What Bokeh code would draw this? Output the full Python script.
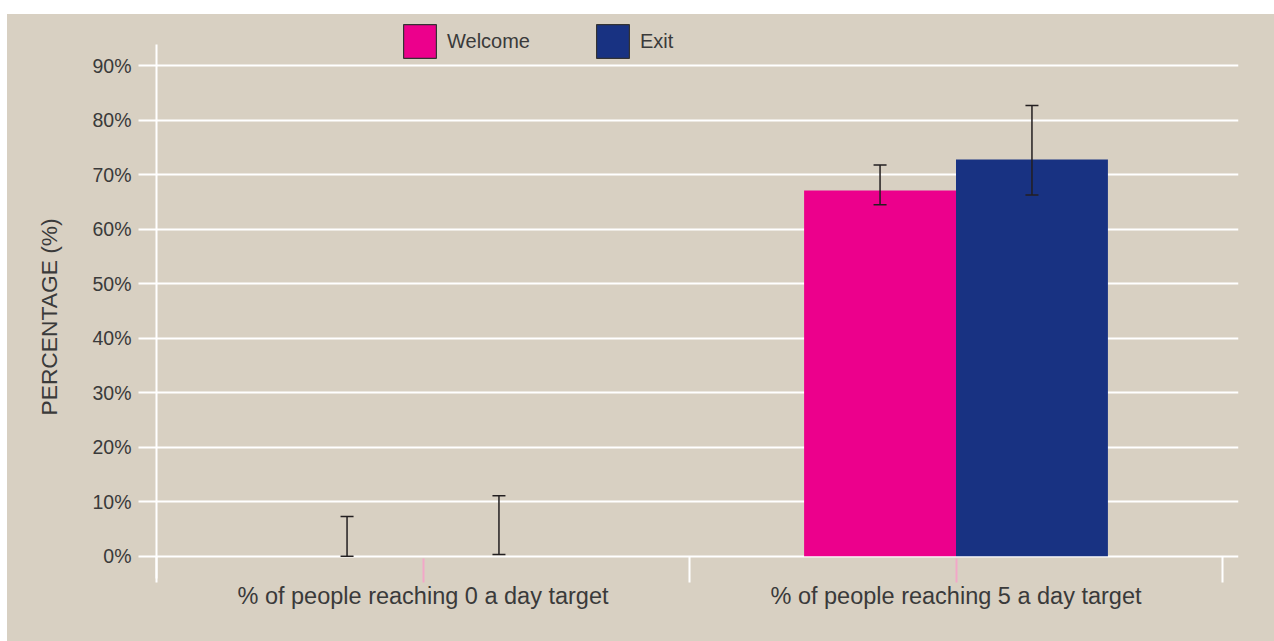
import numpy as np
from bokeh.plotting import figure
from bokeh.models import (ColumnDataSource, Range1d, FixedTicker, PrintfTickFormatter,
                          Whisker, TeeHead, Legend, LegendItem, Spacer, Title)
from bokeh.layouts import column, row
from bokeh.transform import dodge
from bokeh.embed import file_html
from bokeh.resources import INLINE

# ---- data ----
categories = ["% of people reaching 0 a day target", "% of people reaching 5 a day target"]
series = ["Welcome", "Exit"]
welcome = [0.0, 67.1]
welcome_lo = [0.0, 64.5]
welcome_hi = [7.3, 71.8]
exit_ = [0.0, 72.8]
exit_lo = [0.3, 66.3]
exit_hi = [11.1, 82.7]
y_ticks = [0, 10, 20, 30, 40, 50, 60, 70, 80, 90]
y_title = "PERCENTAGE (%)"

# ---- style ----
BG = "#D8D0C2"
PINK = "#EC008C"
NAVY = "#183282"
TXT = "#3a3a3a"
FONT = "Liberation Sans"

xpos = [i + 1 for i in range(len(categories))]
src = ColumnDataSource(dict(x=xpos, welcome=welcome, wlo=welcome_lo, whi=welcome_hi,
                            exit=exit_, elo=exit_lo, ehi=exit_hi))

y_lo, y_axis_top, y_frame_top = -4.09, 93.9, 99.41
p = figure(width=1267, height=627, output_backend="svg", toolbar_location=None,
           x_range=Range1d(0.5, 2.530), y_range=Range1d(y_lo, y_frame_top),
           min_border_left=149, min_border_right=36, min_border_top=0, min_border_bottom=63)
p.background_fill_color = None
p.border_fill_color = BG
p.styles = {"background-color": BG}
p.outline_line_color = None

bw = 0.285
off = bw / 2
p.vbar(x=dodge("x", -off, range=p.x_range), top="welcome", width=bw, source=src,
       fill_color=PINK, line_color=None)
p.vbar(x=dodge("x", off, range=p.x_range), top="exit", width=bw, source=src,
       fill_color=NAVY, line_color=None)

for col_lo, col_hi, d in (("wlo", "whi", -off), ("elo", "ehi", off)):
    w = Whisker(base=dodge("x", d, range=p.x_range), lower=col_lo, upper=col_hi, source=src,
                line_color="#231F20", line_width=1.5, level="annotation",
                upper_head=TeeHead(size=13, line_color="#231F20", line_width=1.5),
                lower_head=TeeHead(size=13, line_color="#231F20", line_width=1.5))
    p.add_layout(w)

# legend proxies (a single NaN row: nothing drawn in the plot, swatch drawn in the legend)
nan = np.array([np.nan])
lw = p.vbar(x=nan, top=nan, width=1, fill_color=PINK, line_color="#333333", line_width=1.2)
le = p.vbar(x=nan, top=nan, width=1, fill_color=NAVY, line_color="#333333", line_width=1.2)
legend = Legend(items=[LegendItem(label=series[0], renderers=[lw]),
                       LegendItem(label=series[1], renderers=[le])],
                orientation="horizontal", location=(243, 516),
                glyph_width=41, glyph_height=42, label_standoff=7, label_width=140,
                spacing=5, padding=0, margin=0, border_line_color=None,
                background_fill_alpha=0, label_text_font=FONT, label_text_font_size="20px",
                label_text_color=TXT)
p.add_layout(legend, "center")

# y axis
p.yaxis.bounds = (y_lo, y_axis_top)
p.yaxis.ticker = FixedTicker(ticks=y_ticks)
p.yaxis.formatter = PrintfTickFormatter(format="%d%%")
p.yaxis.axis_line_color = "white"
p.yaxis.axis_line_width = 2
p.yaxis.major_tick_line_color = "white"
p.yaxis.major_tick_line_width = 2
p.yaxis.major_tick_in = 0
p.yaxis.major_tick_out = 18
p.yaxis.minor_tick_line_color = None
p.yaxis.major_label_standoff = 7
p.yaxis.major_label_text_font = FONT
p.yaxis.major_label_text_font_size = "19.5px"
p.yaxis.major_label_text_color = TXT

ttl = Title(text=y_title, align="left", offset=163, vertical_align="middle", standoff=53,
            text_font=FONT, text_font_size="22.8px", text_font_style="normal", text_color=TXT)
p.add_layout(ttl, "left")

p.ygrid.ticker = FixedTicker(ticks=y_ticks)
p.ygrid.grid_line_color = "white"
p.ygrid.grid_line_width = 2
p.xgrid.grid_line_color = None

# x axis
p.xaxis.ticker = FixedTicker(ticks=xpos, minor_ticks=[x - 0.5 for x in xpos] + [xpos[-1] + 0.5])
p.xaxis.major_label_overrides = {x: c for x, c in zip(xpos, categories)}
p.xaxis.axis_line_color = None
p.xaxis.major_tick_line_color = "#F2A7C8"
p.xaxis.major_tick_line_width = 2
p.xaxis.major_tick_in = 20
p.xaxis.major_tick_out = 4
p.xaxis.minor_tick_line_color = "white"
p.xaxis.minor_tick_line_width = 2
p.xaxis.minor_tick_in = 22
p.xaxis.minor_tick_out = 4
p.xaxis.major_label_standoff = 0
p.xaxis.major_label_text_font = FONT
p.xaxis.major_label_text_font_size = "23.5px"
p.xaxis.major_label_text_color = TXT

layout = column(Spacer(height=14, width=1274), row(Spacer(width=7, height=627), p, spacing=0), spacing=0)
open("out.html", "w").write(file_html(layout, INLINE))
